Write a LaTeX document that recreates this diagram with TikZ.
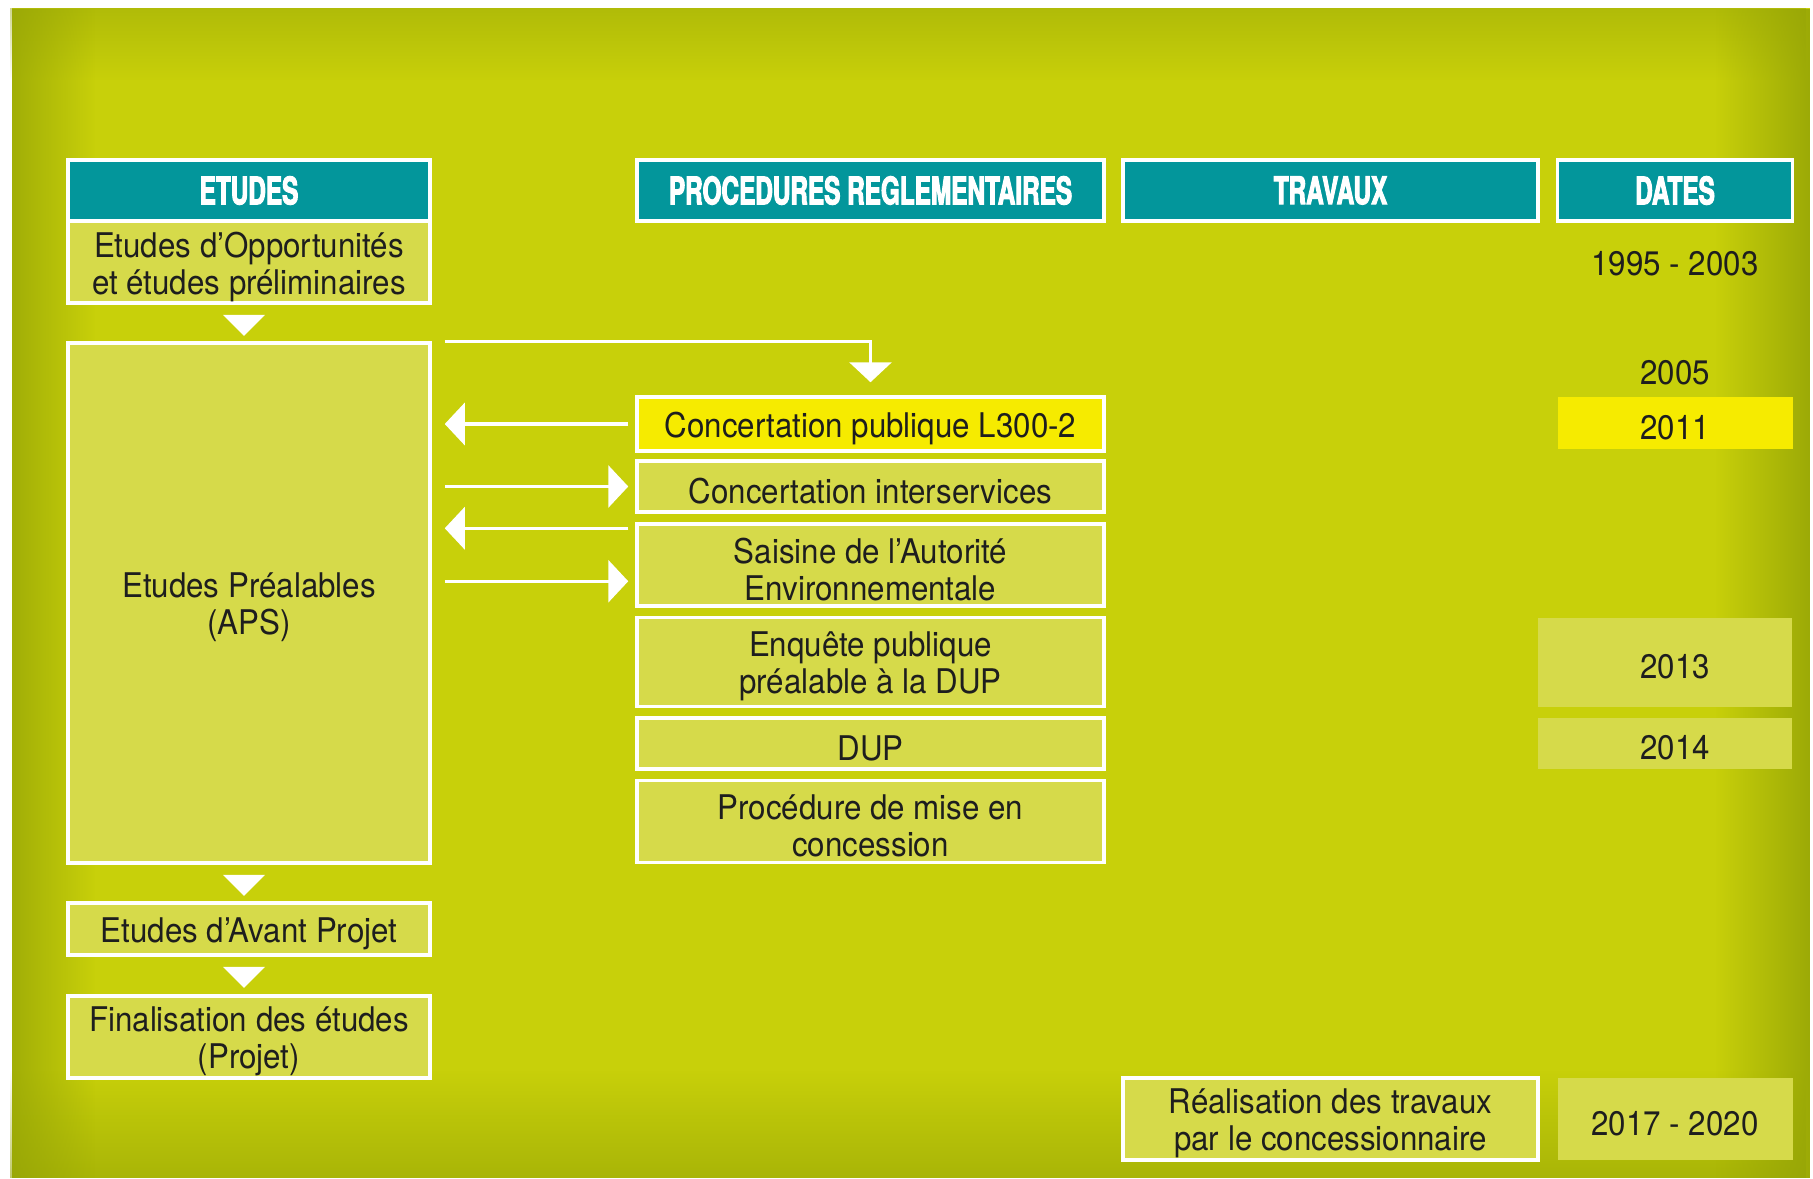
\documentclass[tikz,border=0pt]{standalone}
\usepackage{fontspec}
\setmainfont{TeX Gyre Heros}[FakeStretch=0.92]
\newfontfamily\headfont{TeX Gyre Heros}[FakeStretch=0.64,FakeBold=2.6]
\usetikzlibrary{arrows.meta,calc,fadings}
\definecolor{bgbase}{RGB}{200,208,10}
\definecolor{bgdark}{RGB}{148,163,6}
\definecolor{boxfill}{RGB}{214,218,74}
\definecolor{hdteal}{RGB}{3,150,155}
\definecolor{yell}{RGB}{246,235,0}
\definecolor{txt}{RGB}{30,30,30}
\tikzfading[name=fadeR, left color=transparent!0, right color=transparent!100]
\tikzfading[name=fadeL, left color=transparent!100, right color=transparent!0]
\tikzfading[name=fadeT, top color=transparent!0, bottom color=transparent!100]
\tikzfading[name=fadeB, top color=transparent!100, bottom color=transparent!0]
\tikzset{
 base/.style={rectangle, inner sep=0pt, align=center, text=txt, font=\fontsize{17}{18.5}\selectfont},
 wbox/.style={rectangle, inner sep=0pt, draw=white, line width=1.75pt, fill=boxfill},
 hbox/.style={wbox, fill=hdteal, text=white, font={\headfont\bfseries\fontsize{19}{20}\selectfont}, minimum height=30.5pt},
 plainbox/.style={rectangle, inner sep=0pt, fill=boxfill},
 conn/.style={draw=white, line width=1.75pt, -{Triangle[length=10pt,width=21pt]}},
}
% box node plus its text, the text lowered a little
\newcommand\bx[6]{\node[#5, minimum width=#3, minimum height=#4] (#1) at (#2) {};
  \node[base, yshift=-2.3pt] (#1-t) at (#1) {#6};}
\newcommand\downtri[1]{\fill[white] ($(#1)+(-26,10)$) -- ($(#1)+(16,10)$) -- ($(#1)+(-5,31)$) -- cycle;}
\begin{document}
\begin{tikzpicture}[x=0.5pt,y=-0.5pt]
\useasboundingbox (0,0) rectangle (1813,1178);
% background
\fill[bgbase] (11.6,8) rectangle (1810,1178);
\fill[bgdark, opacity=0.45, path fading=fadeT] (11.6,8) rectangle (1810,80);
\fill[bgdark, opacity=0.6, path fading=fadeB] (11.6,1070) rectangle (1810,1178);
\fill[bgdark, opacity=0.75, path fading=fadeR] (11.6,8) rectangle (95,1178);
\fill[bgdark, opacity=0.85, path fading=fadeL] (1715,8) rectangle (1810,1178);

% headers
\node[hbox, minimum width=181pt] (hE) at (249,190.5) {ETUDES};
\node[hbox, minimum width=233.5pt] (hP) at (870.5,190.5) {PROCEDURES REGLEMENTAIRES};
\node[hbox, minimum width=207.5pt] (hT) at (1330.5,190.5) {TRAVAUX};
\node[hbox, minimum width=117.5pt] (hD) at (1675,190.5) {DATES};

% etudes column
\bx{oppo}{249,262}{181pt}{41pt}{wbox}{Etudes d’Opportunités\\et études préliminaires}
\bx{aps}{249,603}{181pt}{260pt}{wbox}{Etudes Préalables\\(APS)}
\bx{avp}{249,929}{181pt}{26pt}{wbox}{Etudes d’Avant Projet}
\bx{fin}{249,1037}{181pt}{41pt}{wbox}{Finalisation des études\\(Projet)}

% procedures column
\bx{c1}{870.5,424}{233.5pt}{27pt}{wbox, fill=yell}{Concertation publique L300-2}
\bx{c2}{870.5,486.5}{233.5pt}{25.5pt}{wbox}{Concertation interservices}
\bx{c3}{870.5,565}{233.5pt}{41pt}{wbox}{Saisine de l’Autorité\\Environnementale}
\bx{c4}{870.5,662}{233.5pt}{44.5pt}{wbox}{Enquête publique\\préalable à la DUP}
\bx{c5}{870.5,743.5}{233.5pt}{25.5pt}{wbox}{DUP}
\bx{c6}{870.5,821.5}{233.5pt}{41pt}{wbox}{Procédure de mise en\\concession}

% travaux
\bx{real}{1330.5,1119}{207.5pt}{41pt}{wbox}{Réalisation des travaux\\par le concessionnaire}

% dates
\node[base] (d95) at (1675,264) {1995 - 2003};
\node[base] (d05) at (1675,373) {2005};
\bx{d11}{1675,423}{117.5pt}{26pt}{plainbox, fill=yell}{2011}
\node[plainbox, minimum width=127pt, minimum height=44.5pt] (d13b) at (1665,662) {};
\node[base, yshift=-2.3pt] (d13) at (1675,662) {2013};
\node[plainbox, minimum width=127pt, minimum height=25.5pt] (d14b) at (1665,743.5) {};
\node[base, yshift=-2.3pt] (d14) at (1675,743.5) {2014};
\bx{d17}{1675,1119}{117.5pt}{41pt}{plainbox}{2017 - 2020}

% down triangles in etudes column
\downtri{oppo.south}
\downtri{aps.south}
\downtri{avp.south}

% connectors
\coordinate (s0) at ($(aps.north east)+(13,0)$);
\draw[conn, shorten >=6.5pt] (s0) -- (s0 -| c1.north) -- (c1.north);
\draw[conn, shorten <=3.5pt, shorten >=6.5pt] (c1.west) -- (c1.west -| aps.east);
\draw[conn, shorten <=6.5pt, shorten >=3.5pt] (c2.west -| aps.east) -- (c2.west);
\coordinate (c3a) at ($(c3.north west)+(0,6)$);
\coordinate (c3b) at ($(c3.north west)+(0,59)$);
\draw[conn, shorten <=3.5pt, shorten >=6.5pt] (c3a) -- (c3a -| aps.east);
\draw[conn, shorten <=6.5pt, shorten >=3.5pt] (c3b -| aps.east) -- (c3b);
\end{tikzpicture}
\end{document}
